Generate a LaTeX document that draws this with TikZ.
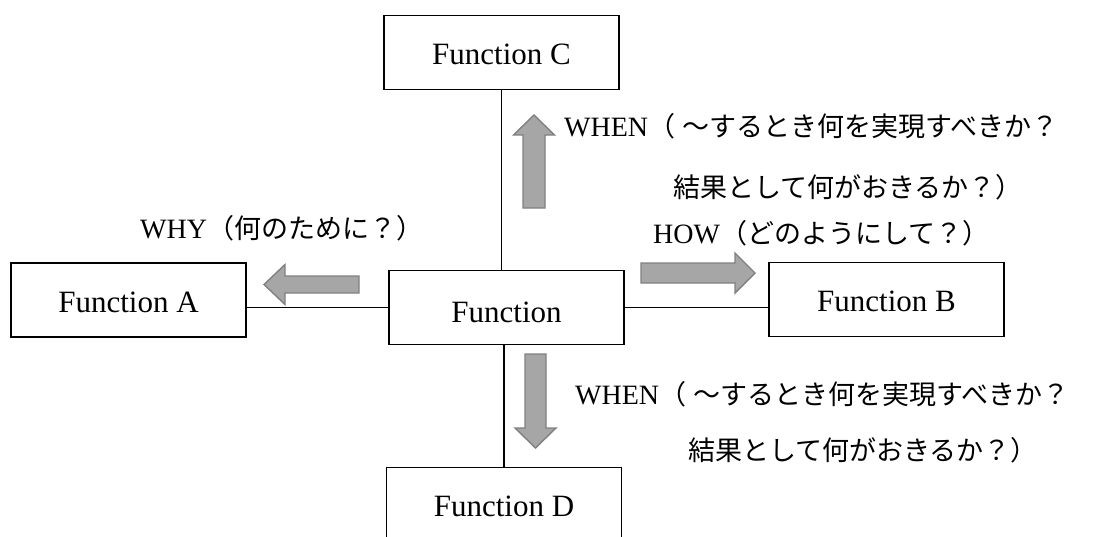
\documentclass[tikz,border=0pt]{standalone}
\usepackage{fontspec}
\setmainfont{Liberation Serif}
\newfontfamily\jp{Noto Sans CJK JP}
\definecolor{arrowbody}{RGB}{166,166,166}
\definecolor{arrowedge}{RGB}{128,128,128}
\tikzset{
  % block arrow pointing along +x: length / shaft width / head width / head length
  pics/blockarrow/.style args={#1/#2/#3/#4}{code={
    \draw[fill=arrowbody, draw=arrowedge, line width=1.4pt, line join=miter]
      (0,{-#2/2}) -- ({#1-#4},{-#2/2}) -- ({#1-#4},{-#3/2}) -- (#1,0)
      -- ({#1-#4},{#3/2}) -- ({#1-#4},{#2/2}) -- (0,{#2/2}) -- cycle;
  }}
}
\begin{document}
\begin{tikzpicture}[x=1pt,y=-1pt,
  fbox/.style={draw=black, line width=1.3pt, fill=white,
    minimum width=235pt, minimum height=74pt, inner sep=0pt,
    font=\fontsize{31}{36}\selectfont, text height=24pt, text depth=0pt},
  link/.style={line width=1.3pt},
  lbl/.style={anchor=base west, inner sep=0pt, font=\fontsize{28}{32}\selectfont},
  jpl/.style={font=\jp\fontsize{27}{32}\selectfont}]
\useasboundingbox (0,0) rectangle (1099,536);

% function boxes
\node[fbox] (C) at (501.5,52.5) {Function C};
\node[fbox, text height=30pt] (F) at (506.5,307.5) {Function};
\node[fbox] (A) at (128.5,300) {Function A};
\node[fbox] (B) at (886.5,299.5) {Function B};
\node[fbox] (D) at (504,504.5) {Function D};

% connecting lines
\draw[link] (C.south) -- (C.south |- F.north);
\draw[link] (D.north |- F.south) -- (D.north);
\draw[link] (F.west) -- (F.west -| A.east);
\draw[link] (F.east) -- (F.east -| B.west);

% direction arrows
\pic at (641,273) {blockarrow=114/20/40/20};
\pic[rotate=180] at (359,284.5) {blockarrow=95/17/40/21};
\pic[rotate=90] at (534,208) {blockarrow=93/22/41/20};
\pic[rotate=-90] at (535.5,354) {blockarrow=94/21/41/20};

% labels
\node[lbl] (why) at (140,238) {WHY{\jp\fontsize{27}{32}\selectfont（何のために？）}};
\node[lbl] (how) at (653,243) {HOW{\jp\fontsize{27}{32}\selectfont（どのようにして？）}};
\node[lbl] (whenU1) at (564,136) {WHEN{\jp\fontsize{27}{32}\selectfont（\hspace{7pt}～するとき何を実現すべきか？}};
\node[lbl, jpl] (whenU2) at (673,197) {結果として何がおきるか？）};
\node[lbl] (whenD1) at (575,404) {WHEN{\jp\fontsize{27}{32}\selectfont（\hspace{7pt}～するとき何を実現すべきか？}};
\node[lbl, jpl] (whenD2) at (688,460) {結果として何がおきるか？）};
\end{tikzpicture}
\end{document}
